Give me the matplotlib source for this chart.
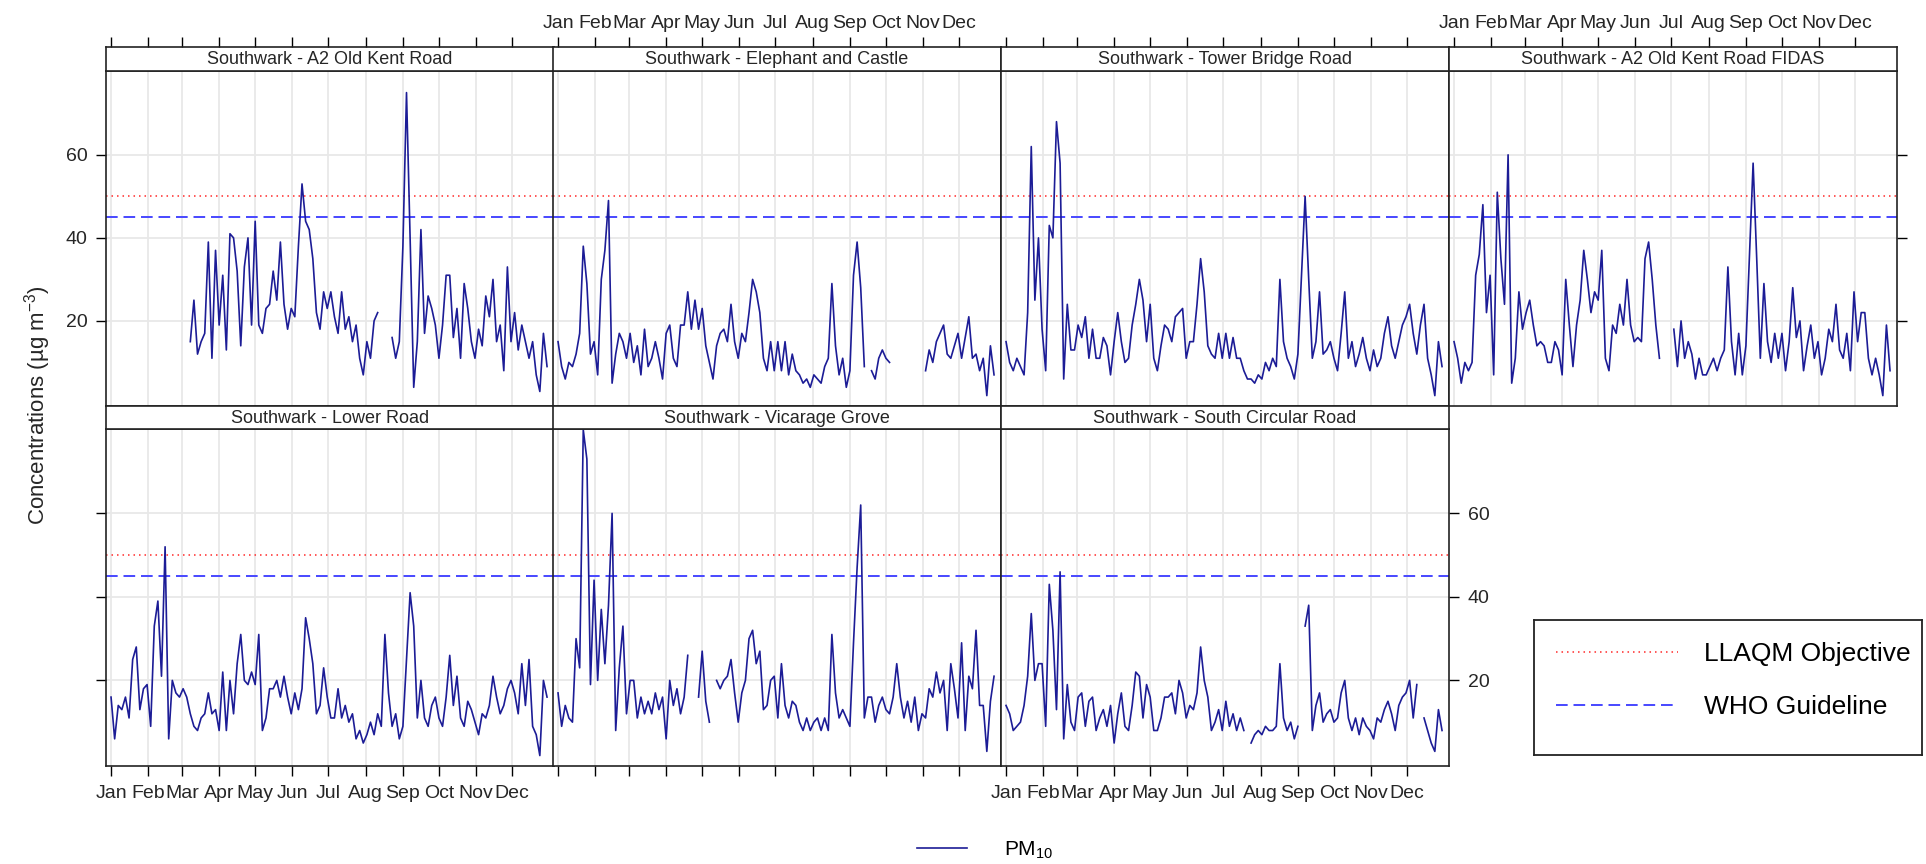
import numpy as np
import matplotlib
matplotlib.use('Agg')
import matplotlib.pyplot as plt
from matplotlib.lines import Line2D

plt.rcParams['font.family'] = ['Liberation Sans', 'DejaVu Sans']
plt.rcParams['mathtext.fontset'] = 'custom'
plt.rcParams['mathtext.rm'] = 'Liberation Sans'
plt.rcParams['mathtext.default'] = 'regular'

nan = np.nan

days = np.arange(0, 366, 3)
month_starts = [0, 31, 59, 90, 120, 151, 181, 212, 243, 273, 304, 334]
month_labels = ['Jan', 'Feb', 'Mar', 'Apr', 'May', 'Jun', 'Jul', 'Aug', 'Sep', 'Oct', 'Nov', 'Dec']
y_ticks = [20, 40, 60]
llaqm_objective = 50
who_guideline = 45

site_names = [
    'Southwark - A2 Old Kent Road',
    'Southwark - Elephant and Castle',
    'Southwark - Tower Bridge Road',
    'Southwark - A2 Old Kent Road FIDAS',
    'Southwark - Lower Road',
    'Southwark - Vicarage Grove',
    'Southwark - South Circular Road',
]

# PM10 daily means, ug/m3 (nan = no data)
old_kent_road = [
    nan, nan, nan, nan, nan, nan, nan, nan, nan, nan,
    nan, nan, nan, nan, nan, nan, nan, nan, nan, nan,
    nan, nan, 15, 25, 12, 15, 17, 39, 11, 37,
    19, 31, 13, 41, 40, 32, 14, 33, 40, 19,
    44, 19, 17, 23, 24, 32, 25, 39, 24, 18,
    23, 21, 38, 53, 44, 42, 35, 22, 18, 27,
    23, 27, 21, 17, 27, 18, 21, 15, 19, 11,
    7, 15, 11, 20, 22, nan, nan, nan, 16, 11,
    15, 38, 75, 40, 4, 15, 42, 17, 26, 23,
    19, 11, 19, 31, 31, 16, 23, 11, 29, 23,
    15, 11, 18, 14, 26, 21, 30, 15, 19, 8,
    33, 15, 22, 13, 19, 15, 11, 15, 7, 3,
    17, 9,
]
elephant_castle = [
    15, 9, 6, 10, 9, 12, 17, 38, 29, 12,
    15, 7, 30, 37, 49, 5, 12, 17, 15, 11,
    17, 10, 14, 7, 18, 9, 11, 15, 11, 6,
    17, 19, 11, 9, 19, 19, 27, 18, 25, 18,
    23, 14, 10, 6, 14, 17, 18, 15, 24, 15,
    11, 17, 15, 22, 30, 27, 22, 11, 8, 15,
    8, 15, 8, 15, 7, 12, 8, 7, 5, 6,
    4, 7, 6, 5, 9, 11, 29, 14, 7, 11,
    4, 8, 31, 39, 28, 9, nan, 8, 6, 11,
    13, 11, 10, nan, nan, nan, nan, nan, nan, nan,
    nan, nan, 8, 13, 10, 15, 17, 19, 12, 11,
    14, 17, 11, 16, 21, 11, 12, 8, 11, 2,
    14, 7,
]
tower_bridge = [
    15, 10, 8, 11, 9, 7, 22, 62, 25, 40,
    18, 8, 43, 40, 68, 58, 6, 24, 13, 13,
    19, 16, 21, 11, 18, 11, 11, 16, 14, 7,
    15, 22, 15, 10, 11, 19, 24, 30, 25, 15,
    24, 11, 8, 14, 19, 18, 15, 21, 22, 23,
    11, 15, 15, 24, 35, 27, 14, 12, 11, 17,
    11, 17, 11, 16, 11, 11, 8, 6, 6, 5,
    7, 6, 10, 8, 11, 9, 30, 15, 11, 9,
    6, 12, 31, 50, 30, 11, 15, 27, 12, 13,
    15, 11, 8, 17, 27, 11, 15, 9, 12, 16,
    11, 8, 13, 9, 11, 17, 21, 14, 11, 15,
    19, 21, 24, 17, 12, 19, 24, 11, 7, 2,
    15, 9,
]
old_kent_fidas = [
    15, 11, 5, 10, 8, 10, 31, 36, 48, 22,
    31, 7, 51, 35, 24, 60, 5, 11, 27, 18,
    22, 25, 19, 14, 15, 14, 10, 10, 15, 13,
    7, 30, 19, 9, 19, 25, 37, 30, 22, 27,
    25, 37, 11, 8, 19, 17, 24, 19, 30, 19,
    15, 16, 15, 35, 39, 30, 19, 11, nan, nan,
    nan, 18, 9, 20, 11, 15, 12, 6, 11, 7,
    7, 9, 11, 8, 11, 13, 33, 15, 7, 17,
    7, 14, 36, 58, 35, 11, 29, 15, 10, 17,
    11, 17, 8, 15, 28, 16, 20, 8, 14, 19,
    11, 15, 7, 11, 18, 15, 24, 13, 11, 17,
    8, 27, 15, 22, 22, 11, 7, 11, 7, 2,
    19, 8,
]
lower_road = [
    16, 6, 14, 13, 16, 11, 25, 28, 13, 18,
    19, 9, 33, 39, 21, 52, 6, 20, 17, 16,
    18, 16, 12, 9, 8, 11, 12, 17, 12, 13,
    8, 22, 8, 20, 12, 24, 31, 20, 19, 22,
    19, 31, 8, 11, 18, 18, 20, 16, 21, 16,
    12, 17, 13, 18, 35, 30, 24, 12, 14, 23,
    16, 11, 11, 18, 11, 14, 10, 12, 6, 8,
    5, 7, 10, 7, 12, 9, 31, 17, 9, 12,
    6, 9, 25, 41, 33, 11, 20, 11, 9, 14,
    16, 11, 9, 16, 26, 14, 21, 11, 9, 15,
    13, 10, 7, 12, 11, 14, 21, 16, 12, 14,
    18, 20, 17, 12, 24, 14, 25, 9, 7, 2,
    20, 16,
]
vicarage_grove = [
    17, 9, 14, 11, 10, 30, 23, 80, 73, 19,
    44, 20, 37, 24, 38, 60, 8, 23, 33, 12,
    20, 20, 11, 16, 12, 15, 12, 17, 13, 16,
    6, 20, 14, 18, 12, 16, 26, nan, nan, 16,
    27, 15, 10, nan, 20, 18, 20, 21, 25, 17,
    10, 17, 20, 30, 32, 24, 27, 13, 14, 20,
    21, 11, 24, 14, 11, 15, 14, 10, 8, 11,
    8, 10, 11, 8, 11, 8, 31, 17, 11, 13,
    11, 9, 29, 47, 62, 11, 16, 16, 10, 14,
    16, 13, 12, 16, 24, 16, 11, 15, 10, 16,
    8, 12, 11, 18, 16, 22, 17, 20, 8, 24,
    18, 11, 29, 8, 21, 18, 32, 14, 14, 3,
    15, 21,
]
south_circular = [
    14, 12, 8, 9, 10, 14, 21, 36, 20, 24,
    24, 9, 43, 32, 13, 46, 6, 19, 10, 8,
    16, 17, 9, 15, 16, 8, 11, 13, 9, 14,
    5, 12, 17, 9, 8, 14, 22, 21, 11, 19,
    16, 8, 8, 11, 16, 16, 17, 12, 20, 17,
    11, 14, 13, 17, 28, 20, 16, 8, 10, 13,
    8, 15, 9, 12, 8, 11, 8, nan, 5, 7,
    8, 7, 9, 8, 8, 9, 24, 11, 8, 10,
    6, 9, nan, 33, 38, 8, 14, 17, 10, 12,
    13, 10, 11, 17, 20, 11, 8, 11, 7, 11,
    9, 8, 6, 11, 10, 13, 15, 12, 8, 14,
    16, 17, 20, 11, 19, nan, 11, 8, 5, 3,
    13, 8,
]

series = [old_kent_road, elephant_castle, tower_bridge, old_kent_fidas,
          lower_road, vicarage_grove, south_circular]
for s in series:
    assert len(s) == len(days), len(s)

W, H = 1926, 864


def box(x0, y0, x1, y1):
    """Pixel box (from top-left) -> figure fraction rect."""
    return [x0 / W, 1 - y1 / H, (x1 - x0) / W, (y1 - y0) / H]


col_left = [106, 553, 1001, 1449]
panel_w = 448
rows = [(47, 71, 406), (406, 429, 766)]  # strip top, data top, data bottom
positions = [(0, 0), (0, 1), (0, 2), (0, 3), (1, 0), (1, 1), (1, 2)]

line_color = '#1c1c96'
text_color = '#262626'
red_style = dict(color='#ff2a2a', ls=(0, (1, 2.6)), lw=1.1)
blue_style = dict(color='#4848ff', ls=(0, (6, 3)), lw=1.4)

fig = plt.figure(figsize=(W / 100, H / 100), dpi=100)

for name, vals, (r, c) in zip(site_names, series, positions):
    x0 = col_left[c]
    s0, d0, d1 = rows[r]
    ax = fig.add_axes(box(x0, d0, x0 + panel_w, d1))
    ax.plot(days, vals, color=line_color, lw=1.2, zorder=3)
    ax.axhline(llaqm_objective, zorder=2, **red_style)
    ax.axhline(who_guideline, zorder=2, **blue_style)
    ax.set_xlim(-4.2, 368.8)
    ax.set_ylim(-0.5, 80.2)
    ax.set_xticks(month_starts)
    ax.set_xticklabels(month_labels)
    ax.set_yticks(y_ticks)
    ax.grid(True, color='#e8e8e8', lw=1.3)
    ax.set_axisbelow(True)
    ax.tick_params(axis='x', top=False, bottom=(r == 1),
                   labelbottom=(r == 1 and c in (0, 2)),
                   direction='out', length=7.5, width=1, pad=6,
                   labelsize=14, labelcolor=text_color)
    ax.tick_params(axis='y', left=(c == 0),
                   right=(r == 0 and c == 3) or (r == 1 and c == 2),
                   labelleft=(r == 0 and c == 0),
                   labelright=(r == 1 and c == 2),
                   direction='out', length=7.5, width=1, pad=6,
                   labelsize=14, labelcolor=text_color)
    for sp in ax.spines.values():
        sp.set_color('#222222')
        sp.set_linewidth(1.2)

    # strip with the site name
    st = fig.add_axes(box(x0, s0, x0 + panel_w, d0))
    st.set_xlim(-4.2, 368.8)
    st.set_ylim(0, 1)
    st.set_yticks([])
    st.set_xticks(month_starts)
    st.set_xticklabels(month_labels)
    st.tick_params(axis='x', bottom=False, labelbottom=False,
                   top=(r == 0), labeltop=(r == 0 and c in (1, 3)),
                   direction='out', length=7.5, width=1, pad=3,
                   labelsize=14, labelcolor=text_color)
    st.text(0.5, 0.47, name, transform=st.transAxes, ha='center', va='center',
            fontsize=13, color=text_color)
    for sp in st.spines.values():
        sp.set_color('#222222')
        sp.set_linewidth(1.2)

fig.text(38 / W, 1 - 405 / H, 'Concentrations (µg m$^{-3}$)', rotation=90,
         ha='center', va='center', fontsize=16, color=text_color)

# legend box for the limit values
lg = fig.add_axes(box(1534, 620, 1922, 755))
lg.set_xticks([])
lg.set_yticks([])
for sp in lg.spines.values():
    sp.set_color('#222222')
    sp.set_linewidth(1.3)
lg.legend(handles=[Line2D([], [], **red_style), Line2D([], [], **blue_style)],
          labels=['LLAQM Objective', 'WHO Guideline'],
          loc='center left', bbox_to_anchor=(0, 0.55), frameon=False,
          borderaxespad=0, borderpad=0.85, handlelength=4.6, handletextpad=1.0,
          labelspacing=1.1, fontsize=19)

fig.legend(handles=[Line2D([], [], color=line_color, lw=1.2)], labels=['PM$_{10}$'],
           loc='center', bbox_to_anchor=(985 / W, 1 - 850 / H), frameon=False,
           handlelength=2.4, handletextpad=1.8, fontsize=15)

fig.savefig('out.png', dpi=100)
